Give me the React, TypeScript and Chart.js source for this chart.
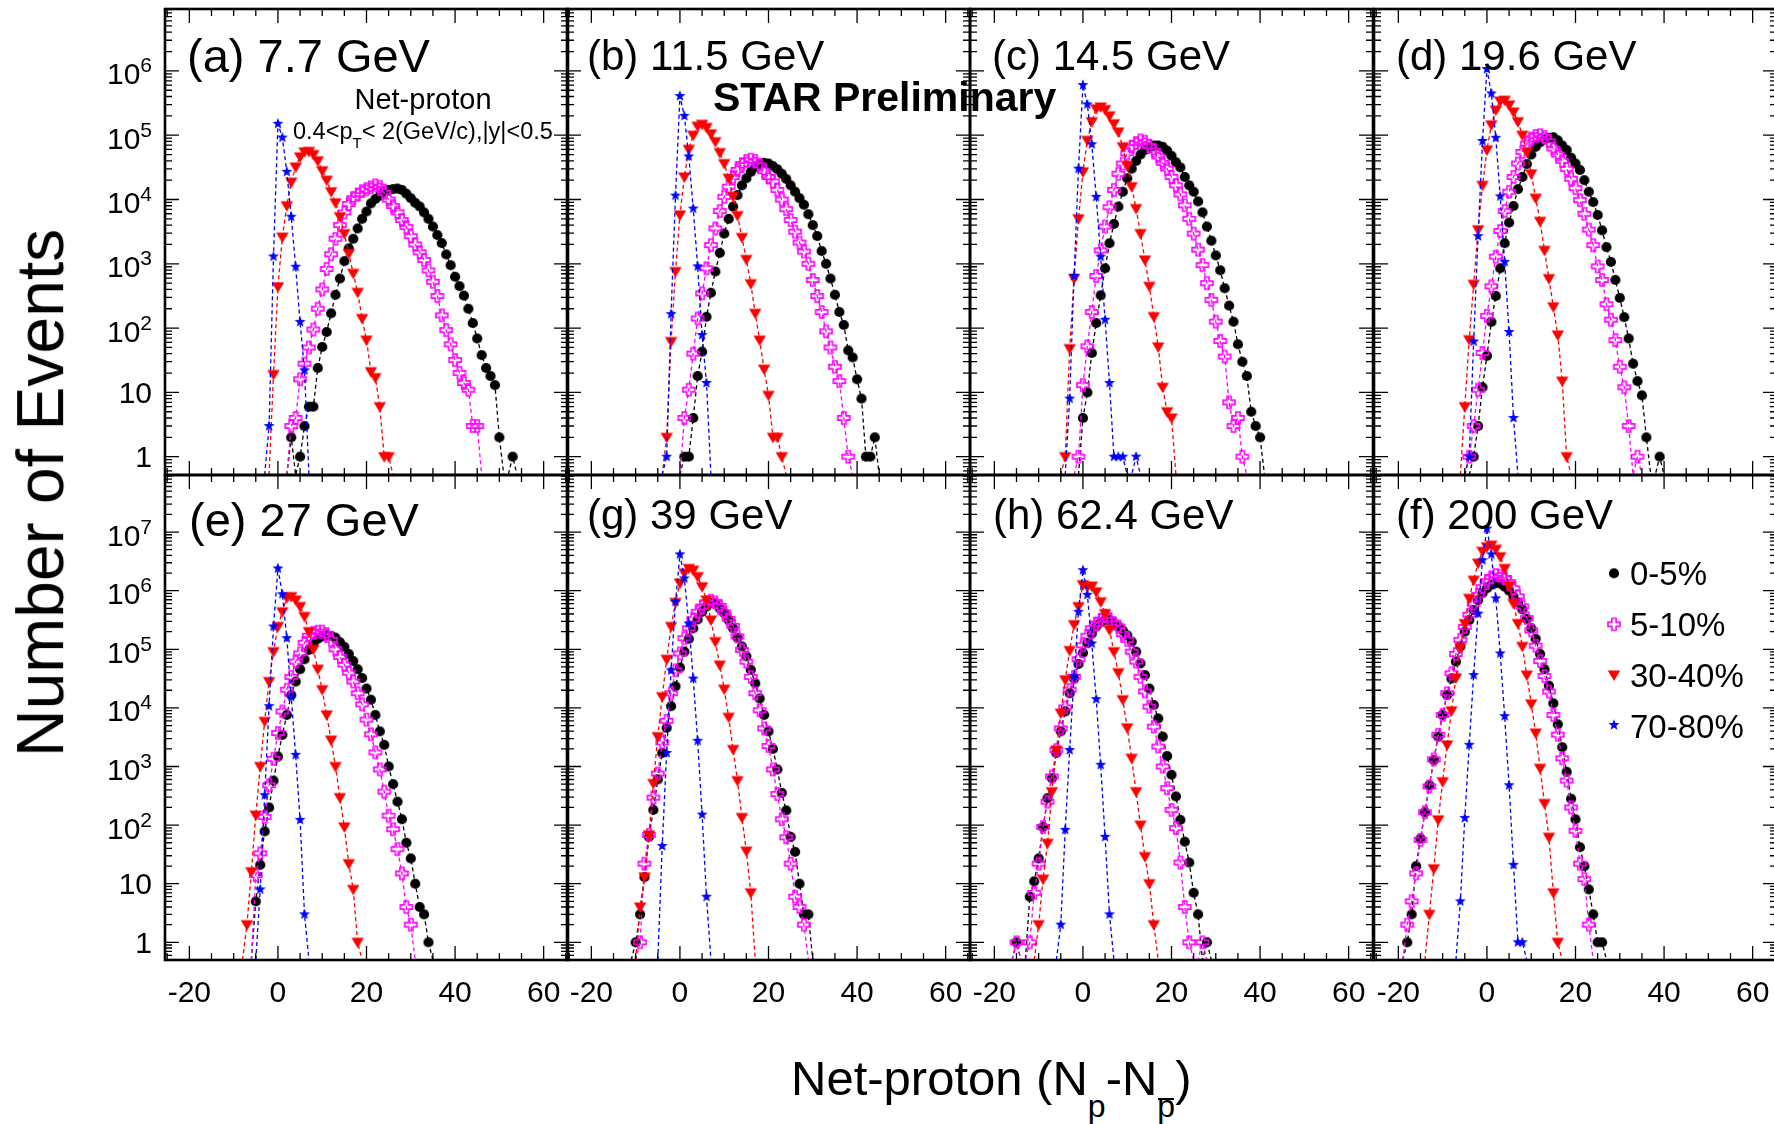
import React, { useEffect, useRef } from 'react';
import { Chart, registerables } from 'chart.js';

Chart.register(...registerables);

const FONT = '"Liberation Sans", Arial, Helvetica, sans-serif';

// ---------------- axes ----------------
const X_MIN = -25.5;
const X_MAX = 65.5;
const X_TICK_LABELS = [-20, 0, 20, 40, 60];
const Y_MIN_TOP = 0.519;
const Y_MAX_TOP = 9.18e6;
const Y_MIN_BOTTOM = 0.499;
const Y_MAX_BOTTOM = 9.42e7;
const Y_DECADES_TOP = [0, 1, 2, 3, 4, 5, 6];
const Y_DECADES_BOTTOM = [0, 1, 2, 3, 4, 5, 6, 7];

const CENTRALITY = ['0-5%', '5-10%', '30-40%', '70-80%'];
const PANEL_TITLES = ['(a) 7.7 GeV', '(b) 11.5 GeV', '(c) 14.5 GeV', '(d) 19.6 GeV', '(e) 27 GeV', '(g) 39 GeV', '(h) 62.4 GeV', '(f) 200 GeV'];

// ---------------- data: events per net-proton bin; *_x0 = net-proton value of first bin ----------------
// (a) 7.7 GeV
const a_c05_x0 = 2;
const a_c05 = [0, 2, 0, 1, 3, 6, 6, 24, 51, 87, 170, 330, 590, 1100, 1740, 2450, 3550, 5000, 6500, 8700, 10200, 11500, 13500, 14100, 14500, 14800, 14100, 12300, 10500, 8900, 7800, 6300, 5000, 3800, 2800, 2100, 1400, 950, 630, 450, 320, 200, 120, 69, 38, 24, 18, 13, 2, 0, 0, 1, 0];
const a_c510_x0 = 2;
const a_c510 = [0, 3, 4, 16, 28, 50, 95, 200, 400, 830, 1410, 2450, 4000, 6300, 8500, 10500, 12000, 13500, 14500, 15500, 16600, 15800, 12600, 10000, 7940, 6310, 4790, 3720, 2690, 2000, 1510, 1150, 790, 525, 316, 158, 93, 56, 32, 20, 14, 11, 3, 3, 0];
const a_c3040_x0 = -2;
const a_c3040 = [0, 19, 440, 2600, 8000, 18600, 32000, 46000, 55000, 56000, 50000, 40000, 28000, 20000, 13200, 8900, 5400, 2950, 1450, 710, 360, 141, 65, 21, 17, 6, 1, 1, 0];
const a_c7080_x0 = -3;
const a_c7080 = [0, 3, 1300, 151000, 92000, 27000, 5400, 900, 125, 22, 0];
// (b) 11.5 GeV
const b_c05_x0 = 0;
const b_c05 = [0, 1, 1, 4, 18, 43, 150, 355, 760, 1480, 2950, 5000, 7760, 11700, 16600, 21400, 26900, 31600, 35500, 37200, 36300, 33100, 29500, 25100, 20900, 16600, 13200, 10500, 8300, 5900, 4000, 2700, 1580, 1000, 590, 330, 178, 112, 45, 35, 16, 8, 1, 1, 2, 0];
const b_c510_x0 = 0;
const b_c510 = [0, 4, 11, 40, 141, 347, 851, 1950, 3550, 6610, 11000, 15800, 22400, 28800, 35500, 39800, 41700, 39800, 33900, 27500, 22400, 19100, 14100, 10000, 7080, 4790, 3160, 2140, 1550, 1000, 560, 316, 178, 89, 50, 25, 15, 4, 1, 0];
const b_c3040_x0 = -4;
const b_c3040 = [0, 2, 62, 760, 5750, 22400, 60300, 100000, 138000, 148000, 132000, 105000, 79400, 53700, 36300, 21400, 11200, 5620, 2570, 1170, 490, 170, 65, 23, 9, 2, 2, 1, 0];
const b_c7080_x0 = -4;
const b_c7080 = [0, 1, 165, 11500, 407000, 200000, 46800, 7240, 912, 78, 14, 0];
// (c) 14.5 GeV
const c_c05_x0 = -1;
const c_c05 = [0, 4, 10, 41, 120, 324, 851, 2090, 4170, 7760, 13200, 21400, 30200, 39800, 50100, 58900, 64600, 69200, 69200, 66100, 57500, 47900, 38000, 31600, 22400, 16600, 13200, 9330, 6310, 3800, 2290, 1350, 794, 417, 224, 126, 56, 30, 18, 5, 3, 2, 0];
const c_c510_x0 = -2;
const c_c510 = [0, 1, 13, 52, 178, 646, 1620, 3800, 7590, 14100, 25100, 36300, 52500, 66100, 75900, 83200, 79400, 67600, 57500, 46800, 37200, 30200, 22400, 16600, 12000, 8130, 5010, 2950, 1660, 955, 500, 275, 126, 63, 36, 7, 3, 4, 1, 0];
const c_c3040_x0 = -5;
const c_c3040 = [0, 1, 48, 590, 5010, 26900, 83200, 162000, 257000, 275000, 251000, 200000, 151000, 112000, 66100, 33900, 15800, 7240, 2950, 1150, 447, 151, 51, 12, 5, 4, 0];
const c_c7080_x0 = -4;
const c_c7080 = [0, 8, 650, 30200, 603000, 302000, 72400, 11000, 1290, 135, 14, 1, 1, 1, 0, 0, 1, 0];
// (d) 19.6 GeV
const d_c05_x0 = -4;
const d_c05 = [0, 1, 3, 12, 37, 125, 316, 851, 2090, 4370, 7940, 14500, 22400, 35500, 50100, 66100, 77600, 86000, 91000, 93000, 83200, 69200, 58900, 44700, 36300, 28800, 20000, 13200, 9120, 5750, 3310, 1820, 1070, 562, 295, 148, 69, 28, 15, 9, 2, 0, 0, 1, 0];
const d_c510_x0 = -5;
const d_c510 = [0, 1, 3, 11, 41, 155, 447, 1290, 3240, 6610, 13200, 22400, 36300, 55000, 74100, 89100, 97000, 100000, 94000, 80000, 62000, 50000, 40000, 30000, 21000, 15000, 9800, 6000, 3400, 1950, 910, 560, 235, 135, 65, 25, 12, 3, 0, 1, 0];
const d_c3040_x0 = -6;
const d_c3040 = [0, 6, 66, 480, 3390, 16600, 58900, 145000, 245000, 340000, 350000, 295000, 230000, 162000, 100000, 55000, 25000, 10500, 4570, 1620, 589, 214, 78, 15, 1, 0];
const d_c7080_x0 = -5;
const d_c7080 = [0, 1, 62, 2690, 81300, 1070000, 447000, 91200, 11200, 1070, 87, 4, 0];
// (e) 27 GeV
const e_c05_x0 = -6;
const e_c05 = [0, 5, 21, 78, 200, 575, 1480, 3470, 7590, 16600, 28200, 45700, 67600, 97700, 126000, 151000, 166000, 174000, 170000, 158000, 132000, 110000, 83200, 63100, 45700, 32400, 21400, 13800, 7590, 3980, 2340, 1000, 501, 251, 126, 50, 27, 10, 4, 3, 1, 0];
const e_c510_x0 = -6;
const e_c510 = [0, 14, 33, 138, 479, 1350, 3720, 8710, 20400, 33900, 61700, 85100, 129000, 170000, 191000, 200000, 200000, 182000, 145000, 100000, 74100, 55000, 39800, 28200, 17800, 11500, 6310, 3550, 1740, 891, 372, 145, 85, 39, 15, 4, 2, 0];
const e_c3040_x0 = -8;
const e_c3040 = [0, 2, 16, 148, 1000, 5890, 28200, 91200, 245000, 437000, 759000, 794000, 692000, 537000, 363000, 200000, 100000, 45700, 20400, 7590, 2820, 1000, 295, 93, 22, 8, 1, 0];
const e_c7080_x0 = -5;
const e_c7080 = [0, 8, 324, 10700, 245000, 2400000, 871000, 155000, 15500, 1580, 123, 3, 0];
// (g) 39 GeV
const g_c05_x0 = -11;
const g_c05 = [0, 1, 3, 13, 63, 182, 603, 1700, 4570, 10700, 23400, 49000, 91200, 151000, 229000, 324000, 437000, 537000, 617000, 603000, 501000, 417000, 316000, 229000, 158000, 112000, 75900, 44700, 26300, 14500, 7590, 3980, 2000, 891, 355, 178, 63, 35, 10, 3, 3, 0];
const g_c510_x0 = -10;
const g_c510 = [0, 1, 22, 68, 295, 759, 2570, 6030, 17800, 43700, 85100, 155000, 229000, 324000, 437000, 537000, 631000, 676000, 631000, 550000, 427000, 331000, 251000, 166000, 97700, 61700, 33900, 17800, 9120, 4470, 2240, 891, 339, 126, 62, 22, 6, 4, 2, 0];
const g_c3040_x0 = -10;
const g_c3040 = [0, 4, 13, 68, 513, 3240, 15500, 67600, 245000, 631000, 1350000, 2000000, 2400000, 2240000, 1740000, 1170000, 692000, 316000, 135000, 53700, 20900, 6920, 1950, 575, 135, 36, 7, 0];
const g_c7080_x0 = -5;
const g_c7080 = [0, 44, 1700, 43700, 646000, 4170000, 1620000, 275000, 31600, 2750, 151, 6, 0];
// (h) 62.4 GeV
const h_c05_x0 = -16;
const h_c05 = [0, 1, 0, 0, 6, 11, 27, 93, 288, 631, 1700, 3980, 8710, 17800, 31600, 56200, 87100, 129000, 186000, 245000, 288000, 316000, 316000, 275000, 245000, 209000, 174000, 135000, 91200, 57500, 36300, 21400, 11200, 6610, 3240, 1510, 724, 309, 123, 52, 23, 7, 3, 0, 1, 0];
const h_c510_x0 = -16;
const h_c510 = [0, 1, 0, 0, 1, 7, 22, 93, 251, 676, 1910, 4470, 10200, 20400, 33900, 67600, 117000, 170000, 229000, 275000, 316000, 372000, 324000, 275000, 245000, 182000, 145000, 91200, 61700, 33900, 19100, 10500, 4790, 2190, 1000, 427, 182, 89, 23, 4, 1, 0, 0, 1, 0];
const h_c3040_x0 = -11;
const h_c3040 = [0, 2, 12, 49, 372, 1910, 8130, 30200, 95500, 263000, 537000, 1260000, 1170000, 1200000, 955000, 646000, 407000, 214000, 91200, 39800, 13800, 4570, 1380, 372, 100, 29, 10, 2, 0];
const h_c7080_x0 = -6;
const h_c7080 = [0, 2, 83, 1910, 34700, 437000, 2240000, 851000, 126000, 14100, 1070, 63, 3, 0];
// (f) 200 GeV
const f_c05_x0 = -19;
const f_c05 = [0, 1, 3, 20, 59, 166, 479, 1290, 3240, 7590, 16600, 31600, 61700, 112000, 200000, 316000, 468000, 692000, 912000, 1100000, 1260000, 1350000, 1320000, 1170000, 1000000, 794000, 631000, 479000, 331000, 229000, 151000, 83200, 45700, 24000, 12000, 5250, 2140, 813, 282, 126, 42, 20, 8, 3, 1, 1, 0];
const f_c510_x0 = -19;
const f_c510 = [0, 2, 5, 15, 56, 166, 457, 1320, 3470, 7590, 17800, 38900, 83200, 145000, 240000, 390000, 600000, 850000, 1150000, 1450000, 1700000, 1850000, 1800000, 1650000, 1400000, 1100000, 800000, 540000, 340000, 210000, 115000, 63000, 35000, 19000, 7600, 3500, 1380, 575, 200, 80, 22, 12, 2, 0];
const f_c3040_x0 = -14;
const f_c3040 = [0, 3, 18, 123, 550, 2340, 8910, 32400, 107000, 275000, 741000, 1510000, 2950000, 4700000, 5600000, 6000000, 5100000, 3800000, 2400000, 1200000, 603000, 275000, 112000, 36300, 11700, 3720, 933, 234, 62, 7, 1, 0];
const f_c7080_x0 = -7;
const f_c7080 = [0, 5, 132, 2340, 36300, 407000, 3310000, 11500000, 4170000, 741000, 85100, 7240, 479, 21, 1, 1, 0];

// ---------------- layout ----------------
const COL_LEFT = [165, 567, 970, 1374];
const COL_WIDTH = 403;
const ROW_TOP = [9, 475];
const ROW_HEIGHT = [466, 485];

type Series = [number, number[]];
type PanelSpec = { title: string; row: number; col: number; series: Series[]; legend?: boolean };

const PANELS: PanelSpec[] = [
  { title: PANEL_TITLES[0], row: 0, col: 0, series: [[a_c05_x0, a_c05], [a_c510_x0, a_c510], [a_c3040_x0, a_c3040], [a_c7080_x0, a_c7080]] },
  { title: PANEL_TITLES[1], row: 0, col: 1, series: [[b_c05_x0, b_c05], [b_c510_x0, b_c510], [b_c3040_x0, b_c3040], [b_c7080_x0, b_c7080]] },
  { title: PANEL_TITLES[2], row: 0, col: 2, series: [[c_c05_x0, c_c05], [c_c510_x0, c_c510], [c_c3040_x0, c_c3040], [c_c7080_x0, c_c7080]] },
  { title: PANEL_TITLES[3], row: 0, col: 3, series: [[d_c05_x0, d_c05], [d_c510_x0, d_c510], [d_c3040_x0, d_c3040], [d_c7080_x0, d_c7080]] },
  { title: PANEL_TITLES[4], row: 1, col: 0, series: [[e_c05_x0, e_c05], [e_c510_x0, e_c510], [e_c3040_x0, e_c3040], [e_c7080_x0, e_c7080]] },
  { title: PANEL_TITLES[5], row: 1, col: 1, series: [[g_c05_x0, g_c05], [g_c510_x0, g_c510], [g_c3040_x0, g_c3040], [g_c7080_x0, g_c7080]] },
  { title: PANEL_TITLES[6], row: 1, col: 2, series: [[h_c05_x0, h_c05], [h_c510_x0, h_c510], [h_c3040_x0, h_c3040], [h_c7080_x0, h_c7080]] },
  { title: PANEL_TITLES[7], row: 1, col: 3, series: [[f_c05_x0, f_c05], [f_c510_x0, f_c510], [f_c3040_x0, f_c3040], [f_c7080_x0, f_c7080]], legend: true },
];

// title text placement: [left, baseline, font size]
const TITLE_POS: [number, number, number][] = [
  [187, 72, 47], [587, 71, 42], [992, 71, 42], [1396, 71, 42],
  [189, 536, 47], [587, 530, 42], [993, 530, 42], [1396, 530, 42],
];

const STYLES = [
  { color: '#000000', marker: 'circle' },
  { color: '#ff00ff', marker: 'cross' },
  { color: '#ff0000', marker: 'tri' },
  { color: '#0000ff', marker: 'star' },
];

const LEGEND_DY = [98.3, 149.3, 200, 250];
const LEGEND_DX = 240;

// ---------------- markers ----------------
let MARKERS: Record<string, HTMLCanvasElement> | null = null;
function getMarkers() {
  if (MARKERS) return MARKERS;
  const mk = (draw: (g: CanvasRenderingContext2D, m: number) => void) => {
    const c = document.createElement('canvas');
    c.width = 16;
    c.height = 16;
    const g = c.getContext('2d')!;
    draw(g, 8);
    return c;
  };
  MARKERS = {
    circle: mk((g, m) => {
      g.fillStyle = '#000';
      g.beginPath();
      g.arc(m, m, 5.1, 0, Math.PI * 2);
      g.fill();
    }),
    cross: mk((g, m) => {
      const h = 6, w = 2.1;
      g.strokeStyle = '#ff00ff';
      g.lineWidth = 1.6;
      g.beginPath();
      g.moveTo(m - w, m - h); g.lineTo(m + w, m - h); g.lineTo(m + w, m - w); g.lineTo(m + h, m - w);
      g.lineTo(m + h, m + w); g.lineTo(m + w, m + w); g.lineTo(m + w, m + h); g.lineTo(m - w, m + h);
      g.lineTo(m - w, m + w); g.lineTo(m - h, m + w); g.lineTo(m - h, m - w); g.lineTo(m - w, m - w);
      g.closePath();
      g.stroke();
    }),
    tri: mk((g, m) => {
      g.fillStyle = '#ff0000';
      g.beginPath();
      g.moveTo(m - 6.2, m - 4.4);
      g.lineTo(m + 6.2, m - 4.4);
      g.lineTo(m, m + 6);
      g.closePath();
      g.fill();
    }),
    star: mk((g, m) => {
      g.fillStyle = '#0000ff';
      g.beginPath();
      for (let i = 0; i < 10; i++) {
        const r = i % 2 === 0 ? 5.8 : 2.4;
        const ang = -Math.PI / 2 + (i * Math.PI) / 5;
        const px = m + r * Math.cos(ang), py = m + r * Math.sin(ang);
        if (i === 0) g.moveTo(px, py); else g.lineTo(px, py);
      }
      g.closePath();
      g.fill();
    }),
  };
  return MARKERS;
}

// ---------------- frame / ticks / labels plugin ----------------
function makeFramePlugin(spec: PanelSpec) {
  return {
    id: 'rootFrame',
    afterDatasetsDraw(chart: any) {
      const { ctx, chartArea: a } = chart;
      const xs = chart.scales.x, ys = chart.scales.y;
      ctx.save();
      ctx.strokeStyle = '#000';
      ctx.lineWidth = 1.3;
      ctx.setLineDash([]);
      ctx.beginPath();
      for (let v = -25; v <= 65; v += 5) {
        const px = xs.getPixelForValue(v);
        if (px < a.left + 2 || px > a.right - 2) continue;
        const len = v % 20 === 0 ? 14 : 7;
        ctx.moveTo(px, a.bottom); ctx.lineTo(px, a.bottom - len);
        ctx.moveTo(px, a.top); ctx.lineTo(px, a.top + len);
      }
      const dMax = Math.ceil(Math.log10(ys.max));
      for (let d = -1; d <= dMax; d++) {
        for (let m = 1; m <= 9; m++) {
          const v = m * Math.pow(10, d);
          if (v < ys.min || v > ys.max) continue;
          const py = ys.getPixelForValue(v);
          const len = m === 1 ? 14 : 7;
          ctx.moveTo(a.left, py); ctx.lineTo(a.left + len, py);
          ctx.moveTo(a.right, py); ctx.lineTo(a.right - len, py);
        }
      }
      ctx.stroke();
      ctx.lineWidth = 2.6;
      ctx.strokeRect(a.left, a.top, a.right - a.left, a.bottom - a.top);

      ctx.fillStyle = '#000';
      ctx.textBaseline = 'alphabetic';
      if (spec.col === 0) {
        const decades = spec.row === 0 ? Y_DECADES_TOP : Y_DECADES_BOTTOM;
        const X = a.left - 13;
        ctx.textAlign = 'right';
        for (const d of decades) {
          const py = ys.getPixelForValue(Math.pow(10, d));
          if (d <= 1) {
            ctx.font = `30px ${FONT}`;
            ctx.fillText(d === 0 ? '1' : '10', X, py + 10.5);
          } else {
            ctx.font = `21px ${FONT}`;
            const sw = ctx.measureText(String(d)).width;
            ctx.fillText(String(d), X, py + 1.5);
            ctx.font = `30px ${FONT}`;
            ctx.fillText('10', X - sw, py + 13.5);
          }
        }
      }
      if (spec.row === 1) {
        ctx.textAlign = 'center';
        ctx.font = `30px ${FONT}`;
        for (const v of X_TICK_LABELS) {
          ctx.fillText(String(v), xs.getPixelForValue(v), a.bottom + 41.7);
        }
      }
      if (spec.legend) {
        const mk = getMarkers();
        STYLES.forEach((st, i) => {
          const img = mk[st.marker];
          ctx.drawImage(img, a.left + LEGEND_DX - img.width / 2, a.top + LEGEND_DY[i] - img.height / 2);
        });
      }
      ctx.restore();
    },
  };
}

function Panel({ spec }: { spec: PanelSpec }) {
  const ref = useRef<HTMLCanvasElement>(null);
  const { row, col } = spec;
  const mL = col === 0 ? 160 : 6;
  const mR = 6;
  const mT = 6;
  const mB = row === 1 ? 60 : 6;
  const fl = COL_LEFT[col];
  const ft = ROW_TOP[row];
  const cw = COL_WIDTH + mL + mR;
  const ch = ROW_HEIGHT[row] + mT + mB;

  useEffect(() => {
    if (!ref.current) return;
    const markers = getMarkers();
    const yMin = row === 0 ? Y_MIN_TOP : Y_MIN_BOTTOM;
    const yMax = row === 0 ? Y_MAX_TOP : Y_MAX_BOTTOM;
    const datasets = [3, 2, 1, 0].map((k) => {
      const [x0, counts] = spec.series[k];
      const st = STYLES[k];
      return {
        label: CENTRALITY[k],
        // empty bins sit on the axis floor, as in the ROOT log plot
        data: counts.map((v, i) => ({ x: x0 + i, y: v > 0 ? v : yMin, empty: v === 0 })),
        borderColor: st.color,
        backgroundColor: st.color,
        borderWidth: 1.3,
        borderDash: [4, 3],
        pointStyle: markers[st.marker],
        pointRadius: (c: any) => (c.raw && c.raw.empty ? 0 : 5),
        pointHoverRadius: 0,
        tension: 0,
        fill: false,
      };
    });
    const chart = new Chart(ref.current, {
      type: 'line',
      data: { datasets } as any,
      options: {
        animation: false,
        responsive: false,
        devicePixelRatio: 1,
        events: [],
        layout: { padding: { left: mL, right: mR, top: mT, bottom: mB } },
        plugins: { legend: { display: false }, tooltip: { enabled: false } },
        scales: {
          x: { type: 'linear', min: X_MIN, max: X_MAX, display: false },
          y: { type: 'logarithmic', min: yMin, max: yMax, display: false },
        },
      } as any,
      plugins: [makeFramePlugin(spec) as any],
    });
    return () => chart.destroy();
  }, []);

  return (
    <canvas
      ref={ref}
      width={cw}
      height={ch}
      style={{ position: 'absolute', left: fl - mL, top: ft - mT, width: cw, height: ch }}
    />
  );
}

function Txt(props: { x: number; y: number; size: number; weight?: number; align?: 'left' | 'center' | 'right'; children: React.ReactNode }) {
  const { x, y, size, weight = 400, align = 'left', children } = props;
  const tx = align === 'center' ? 'translateX(-50%)' : align === 'right' ? 'translateX(-100%)' : undefined;
  return (
    <div
      style={{
        position: 'absolute', left: x, top: y - 0.8465 * size, fontSize: size, lineHeight: `${size}px`,
        fontFamily: FONT, fontWeight: weight, whiteSpace: 'nowrap', transform: tx, color: '#000',
      }}
    >
      {children}
    </div>
  );
}

export default function App() {
  const subStyle: React.CSSProperties = { fontSize: 32, position: 'relative', top: 22 };
  return (
    <div style={{ position: 'absolute', left: 0, top: 0, width: 1774, height: 1124, overflow: 'hidden', background: '#fff' }}>
      {PANELS.map((p, i) => (
        <Panel key={i} spec={p} />
      ))}
      {PANELS.map((p, i) => (
        <Txt key={'t' + i} x={TITLE_POS[i][0]} y={TITLE_POS[i][1]} size={TITLE_POS[i][2]}>{p.title}</Txt>
      ))}
      <Txt x={423} y={110} size={29} align="center">Net-proton</Txt>
      <Txt x={293} y={140} size={23.5}>
        {'0.4<p'}
        <span style={{ fontSize: 15, position: 'relative', top: 9 }}>T</span>
        {'< 2(GeV/c),|y|<0.5'}
      </Txt>
      <Txt x={713} y={111.5} size={41} weight={700}>STAR Preliminary</Txt>
      {CENTRALITY.map((c, i) => (
        <Txt key={'l' + i} x={1630} y={585 + i * 50.9} size={33}>{c}</Txt>
      ))}
      <div style={{ position: 'absolute', left: 63, top: 493, width: 0, height: 0 }}>
        <div
          style={{
            position: 'absolute', left: 0, top: 0, fontSize: 66, lineHeight: '66px', fontFamily: FONT,
            whiteSpace: 'nowrap', transformOrigin: '0 0', transform: `rotate(-90deg) translate(-50%, -${0.8465 * 66}px)`,
          }}
        >
          Number of Events
        </div>
      </div>
      <Txt x={791} y={1095} size={49}>
        {'Net-proton (N'}
        <span style={subStyle}>p</span>
        {'-N'}
        <span style={subStyle}>
          p
          <span style={{ position: 'absolute', left: 1, right: 1, top: 10, borderTop: '2px solid #000' }} />
        </span>
        {')'}
      </Txt>
    </div>
  );
}
